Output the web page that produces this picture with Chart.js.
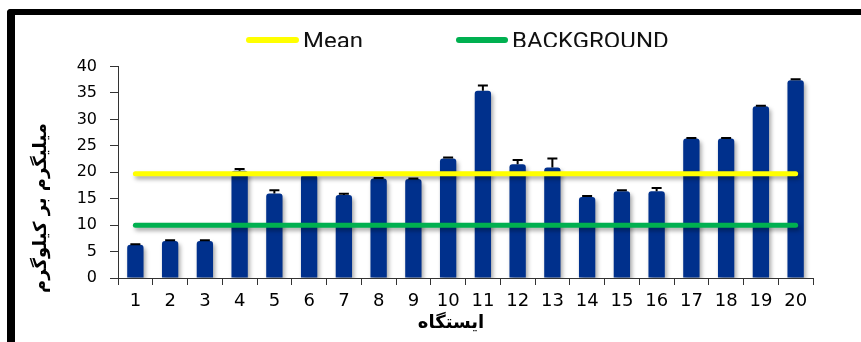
<!DOCTYPE html>
<html>
<head>
<meta charset="utf-8">
<script src="https://cdn.jsdelivr.net/npm/chart.js@4.4.1/dist/chart.umd.min.js"></script>
<style>
  html, body { margin: 0; padding: 0; background: #fff; overflow: hidden; }
  #wrap { position: relative; width: 861px; height: 342px; }
  #frame {
    position: absolute; left: 7px; top: 9px; width: 900px; height: 400px;
    border-top: 6px solid #000; border-left: 8px solid #000;
    border-top-left-radius: 4px;
  }
  canvas { position: absolute; left: 0; top: 0; }
</style>
</head>
<body>
<div id="wrap">
  <div id="frame"></div>
  <canvas id="c" width="861" height="342"></canvas>
</div>
<script>
// Stations along the x axis
const stations = ['1','2','3','4','5','6','7','8','9','10','11','12','13','14','15','16','17','18','19','20'];
// Measured concentration per station (mg/kg)
const concentration = [6.3, 7.0, 7.0, 20.3, 16.0, 19.5, 15.7, 18.8, 18.7, 22.6, 35.4, 21.5, 20.9, 15.3, 16.4, 16.4, 26.4, 26.4, 32.5, 37.4];
// Upper error for each station
const errorUpper = [0.1, 0.15, 0.15, 0.3, 0.6, 0.1, 0.25, 0.1, 0.1, 0.2, 1.0, 0.8, 1.7, 0.2, 0.2, 0.6, 0.1, 0.1, 0.1, 0.2];
// Reference levels
const meanLevel = [19.7, 19.7, 19.7, 19.7, 19.7, 19.7, 19.7, 19.7, 19.7, 19.7, 19.7, 19.7, 19.7, 19.7, 19.7, 19.7, 19.7, 19.7, 19.7, 19.7];
const backgroundLevel = [10, 10, 10, 10, 10, 10, 10, 10, 10, 10, 10, 10, 10, 10, 10, 10, 10, 10, 10, 10];
// Axis settings and texts
const yMin = 0, yMax = 40, yStep = 5;
const yTitle = 'میلیگرم بر کیلوگرم';
const xTitle = 'ایستگاه';

// Soft drop shadow under bars and lines
const shadowPlugin = {
  id: 'dropShadow',
  beforeDatasetDraw(chart) {
    const ctx = chart.ctx;
    ctx.save();
    ctx.shadowColor = 'rgba(0,0,0,0.35)';
    ctx.shadowBlur = 4;
    ctx.shadowOffsetX = 2;
    ctx.shadowOffsetY = 3;
  },
  afterDatasetDraw(chart) {
    chart.ctx.restore();
  }
};

// Upper error bars on the bar dataset
const errorBarPlugin = {
  id: 'errorBars',
  afterDatasetDraw(chart, args) {
    if (args.index !== 0) return;
    const ctx = chart.ctx;
    const y = chart.scales.y;
    ctx.save();
    ctx.strokeStyle = '#000';
    ctx.lineWidth = 2;
    args.meta.data.forEach((bar, i) => {
      const top = y.getPixelForValue(concentration[i]);
      const end = y.getPixelForValue(concentration[i] + errorUpper[i]);
      ctx.beginPath();
      ctx.moveTo(bar.x, top);
      ctx.lineTo(bar.x, end);
      ctx.moveTo(bar.x - 5, end);
      ctx.lineTo(bar.x + 5, end);
      ctx.stroke();
    });
    ctx.restore();
  }
};

// Legend and axis titles
const annotationPlugin = {
  id: 'legendAndTitles',
  afterDraw(chart) {
    const ctx = chart.ctx;
    // legend, clipped along its lower edge
    ctx.save();
    ctx.beginPath();
    ctx.rect(0, 20, chart.width, 27);
    ctx.clip();
    const items = [
      { x: 246, len: 53, ds: chart.data.datasets[1] },
      { x: 456, len: 52, ds: chart.data.datasets[2] }
    ];
    items.forEach(it => {
      ctx.strokeStyle = it.ds.borderColor;
      ctx.lineWidth = 6;
      ctx.lineCap = 'round';
      ctx.beginPath();
      ctx.moveTo(it.x + 3, 40);
      ctx.lineTo(it.x + it.len - 3, 40);
      ctx.stroke();
      ctx.save();
      ctx.translate(it.x + it.len + 4, 47.5);
      ctx.scale(1.09, 1);
      ctx.fillStyle = '#111';
      ctx.font = '22px Roboto, "Liberation Sans", sans-serif';
      ctx.textBaseline = 'alphabetic';
      ctx.textAlign = 'left';
      ctx.fillText(it.ds.label, 0, 0);
      ctx.restore();
    });
    ctx.restore();

    // y axis title
    ctx.save();
    ctx.fillStyle = '#000';
    ctx.font = 'bold 18px "DejaVu Sans", sans-serif';
    ctx.textAlign = 'center';
    ctx.textBaseline = 'middle';
    ctx.translate(41, 208);
    ctx.rotate(-Math.PI / 2);
    ctx.fillText(yTitle, 0, 0);
    ctx.restore();

    // x axis title
    ctx.save();
    ctx.fillStyle = '#000';
    ctx.font = 'bold 18px "DejaVu Sans", sans-serif';
    ctx.textAlign = 'center';
    ctx.textBaseline = 'middle';
    ctx.fillText(xTitle, 451, 323);
    ctx.restore();
  }
};

new Chart(document.getElementById('c'), {
  data: {
    labels: stations,
    datasets: [
      {
        type: 'bar',
        label: 'Concentration',
        data: concentration,
        backgroundColor: '#00308C',
        borderRadius: { topLeft: 3, topRight: 3 },
        borderSkipped: 'bottom',
        categoryPercentage: 1,
        barPercentage: 0.47,
        order: 2
      },
      {
        type: 'line',
        label: 'Mean',
        data: meanLevel,
        borderColor: '#FFFF00',
        borderWidth: 5,
        borderCapStyle: 'round',
        pointRadius: 0,
        fill: false,
        order: 1
      },
      {
        type: 'line',
        label: 'BACKGROUND',
        data: backgroundLevel,
        borderColor: '#00B050',
        borderWidth: 5,
        borderCapStyle: 'round',
        pointRadius: 0,
        fill: false,
        order: 0
      }
    ]
  },
  options: {
    responsive: false,
    animation: false,
    layout: { padding: { left: 0, top: 66.5, right: 48, bottom: 0 } },
    plugins: { legend: { display: false }, tooltip: { enabled: false } },
    scales: {
      x: {
        offset: true,
        grid: { offset: true, drawOnChartArea: false, drawTicks: true, tickLength: 7, color: '#333' },
        border: { color: '#333', width: 1 },
        ticks: { color: '#000', font: { family: '"DejaVu Sans", sans-serif', size: 18 }, padding: 6, maxRotation: 0 },
        afterFit(scale) { scale.height = 64; }
      },
      y: {
        min: yMin,
        max: yMax,
        grid: { drawOnChartArea: false, drawTicks: true, tickLength: 8, color: '#333' },
        border: { color: '#333', width: 1 },
        ticks: { stepSize: yStep, color: '#000', font: { family: '"DejaVu Sans", sans-serif', size: 16 }, padding: 13 },
        afterFit(scale) { scale.width = 118; }
      }
    }
  },
  plugins: [shadowPlugin, errorBarPlugin, annotationPlugin]
});
</script>
</body>
</html>
